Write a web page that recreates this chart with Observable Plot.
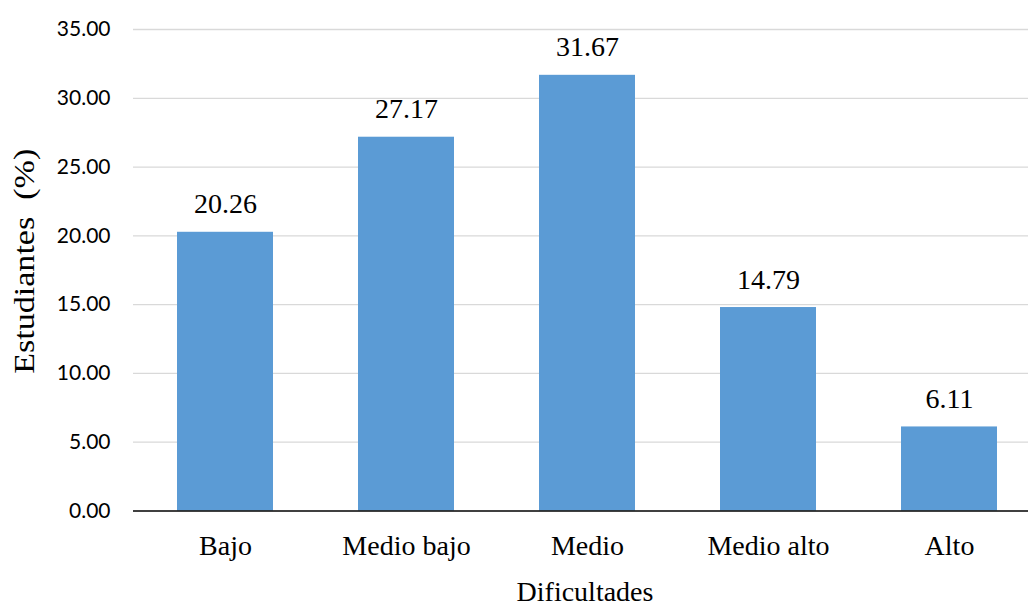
<!DOCTYPE html>
<html>
<head>
<meta charset="utf-8">
<script src="https://cdn.jsdelivr.net/npm/d3@7"></script>
<script src="https://cdn.jsdelivr.net/npm/@observablehq/plot@0.6"></script>
<style>
  html, body { margin: 0; padding: 0; background: #fff; }
  #chart svg { display: block; }
</style>
</head>
<body>
<div id="chart"></div>
<script>
const categories = ["Bajo", "Medio bajo", "Medio", "Medio alto", "Alto"];
const values = [20.26, 27.17, 31.67, 14.79, 6.11];
const yTicks = [0, 5, 10, 15, 20, 25, 30, 35];
const xTitle = "Dificultades";
const yTitle = "Estudiantes\u00a0 (%)";

const data = categories.map((c, i) => ({cat: c, value: values[i]}));
const serif = "Liberation Serif, Times New Roman, serif";
const sans = "Lato, Open Sans, sans-serif";

const chart = Plot.plot({
  width: 1028,
  height: 607,
  marginLeft: 133,
  marginRight: 0,
  marginTop: 29,
  marginBottom: 96.5,
  x: {domain: categories, range: [133.25, 1040.75], paddingInner: 0.47, paddingOuter: 0.235, align: 0.5},
  y: {domain: [0, 35], range: [510.5, 29]},
  marks: [
    Plot.ruleY(yTicks.filter(d => d > 0), {stroke: "#d9d9d9", strokeWidth: 1.3}),
    Plot.barY(data, {x: "cat", y: "value", fill: "#5b9bd5"}),
    Plot.ruleY([0], {stroke: "#000", strokeWidth: 1.5}),
    Plot.axisY({ticks: yTicks, tickFormat: d => d.toFixed(2), tickSize: 0, tickPadding: 23,
      fontSize: 21, fontFamily: sans, fill: "#000", label: null}),
    Plot.axisX({tickSize: 0, tickPadding: 24, fontSize: 28, fontFamily: serif, fill: "#000", label: null}),
    Plot.text(data, {x: "cat", y: "value", text: d => d.value.toFixed(2), lineAnchor: "bottom", dy: -19,
      fontSize: 28, fontFamily: serif, fill: "#000"}),
    Plot.text([xTitle], {frameAnchor: "bottom", textAnchor: "middle", lineAnchor: "bottom", dy: 89.5, dx: 4,
      fontSize: 28, fontFamily: serif, fill: "#000"}),
    Plot.text([yTitle], {frameAnchor: "left", textAnchor: "middle", lineAnchor: "bottom", rotate: -90, dx: -100, dy: -9,
      fontSize: 29, fontFamily: serif, fill: "#000"})
  ]
});
d3.select(chart).selectAll("text")
  .filter(function() { return this.textContent === yTitle; })
  .attr("textLength", 225)
  .attr("lengthAdjust", "spacingAndGlyphs");
document.getElementById("chart").appendChild(chart);
</script>
</body>
</html>
